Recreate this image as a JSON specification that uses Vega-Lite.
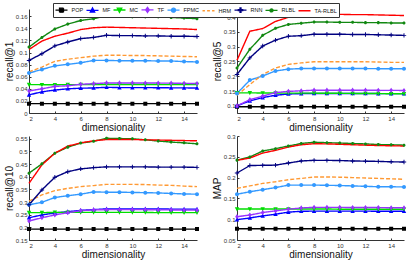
{
"$schema": "https://vega.github.io/schema/vega-lite/v6.json",
"padding": {"left": 4, "top": 2, "right": 2, "bottom": 2},
"background": "white",
"config": {
  "view": {"stroke": null},
  "font": "Liberation Sans",
  "axis": {"labelFontSize": 6, "titleFontSize": 10, "titleFontWeight": "normal", "domainColor": "#333", "tickColor": "#333", "labelColor": "#333", "titleColor": "#111", "grid": false, "tickSize": -2, "labelPadding": 4, "titlePadding": 1},
  "legend": {"orient": "none", "legendX": 24, "legendY": -6, "direction": "horizontal", "columns": 9, "title": null, "symbolSize": 64, "symbolOffset": 2, "symbolStrokeWidth": 1.3, "symbolOpacity": 1, "labelFontSize": 5.5, "labelOffset": 5, "columnPadding": 0, "padding": 1.5, "strokeColor": "#333", "fillColor": "white", "labelColor": "#111"}
},
"data": {"values": [
{"m":"r1","s":"POP","d":2,"v":0.0155},{"m":"r1","s":"POP","d":3,"v":0.0155},{"m":"r1","s":"POP","d":4,"v":0.0155},{"m":"r1","s":"POP","d":5,"v":0.0155},{"m":"r1","s":"POP","d":6,"v":0.0155},{"m":"r1","s":"POP","d":7,"v":0.0155},{"m":"r1","s":"POP","d":8,"v":0.0155},{"m":"r1","s":"POP","d":9,"v":0.0155},{"m":"r1","s":"POP","d":10,"v":0.0155},{"m":"r1","s":"POP","d":11,"v":0.0155},{"m":"r1","s":"POP","d":12,"v":0.0155},{"m":"r1","s":"POP","d":13,"v":0.0155},{"m":"r1","s":"POP","d":14,"v":0.0155},{"m":"r1","s":"POP","d":15,"v":0.0155},
{"m":"r1","s":"MF","d":2,"v":0.030},{"m":"r1","s":"MF","d":3,"v":0.035},{"m":"r1","s":"MF","d":4,"v":0.038},{"m":"r1","s":"MF","d":5,"v":0.040},{"m":"r1","s":"MF","d":6,"v":0.041},{"m":"r1","s":"MF","d":7,"v":0.0414},{"m":"r1","s":"MF","d":8,"v":0.0425},{"m":"r1","s":"MF","d":9,"v":0.042},{"m":"r1","s":"MF","d":10,"v":0.042},{"m":"r1","s":"MF","d":11,"v":0.042},{"m":"r1","s":"MF","d":12,"v":0.0418},{"m":"r1","s":"MF","d":13,"v":0.0416},{"m":"r1","s":"MF","d":14,"v":0.0415},{"m":"r1","s":"MF","d":15,"v":0.0414},
{"m":"r1","s":"MC","d":2,"v":0.047},{"m":"r1","s":"MC","d":3,"v":0.0468},{"m":"r1","s":"MC","d":4,"v":0.0468},{"m":"r1","s":"MC","d":5,"v":0.0469},{"m":"r1","s":"MC","d":6,"v":0.047},{"m":"r1","s":"MC","d":7,"v":0.047},{"m":"r1","s":"MC","d":8,"v":0.0472},{"m":"r1","s":"MC","d":9,"v":0.0472},{"m":"r1","s":"MC","d":10,"v":0.0471},{"m":"r1","s":"MC","d":11,"v":0.0471},{"m":"r1","s":"MC","d":12,"v":0.047},{"m":"r1","s":"MC","d":13,"v":0.047},{"m":"r1","s":"MC","d":14,"v":0.047},{"m":"r1","s":"MC","d":15,"v":0.047},
{"m":"r1","s":"TF","d":2,"v":0.0365},{"m":"r1","s":"TF","d":3,"v":0.040},{"m":"r1","s":"TF","d":4,"v":0.044},{"m":"r1","s":"TF","d":5,"v":0.045},{"m":"r1","s":"TF","d":6,"v":0.0475},{"m":"r1","s":"TF","d":7,"v":0.0485},{"m":"r1","s":"TF","d":8,"v":0.0497},{"m":"r1","s":"TF","d":9,"v":0.0497},{"m":"r1","s":"TF","d":10,"v":0.0497},{"m":"r1","s":"TF","d":11,"v":0.0496},{"m":"r1","s":"TF","d":12,"v":0.0495},{"m":"r1","s":"TF","d":13,"v":0.0493},{"m":"r1","s":"TF","d":14,"v":0.049},{"m":"r1","s":"TF","d":15,"v":0.0488},
{"m":"r1","s":"FPMC","d":2,"v":0.066},{"m":"r1","s":"FPMC","d":3,"v":0.072},{"m":"r1","s":"FPMC","d":4,"v":0.078},{"m":"r1","s":"FPMC","d":5,"v":0.0805},{"m":"r1","s":"FPMC","d":6,"v":0.083},{"m":"r1","s":"FPMC","d":7,"v":0.087},{"m":"r1","s":"FPMC","d":8,"v":0.087},{"m":"r1","s":"FPMC","d":9,"v":0.0865},{"m":"r1","s":"FPMC","d":10,"v":0.0865},{"m":"r1","s":"FPMC","d":11,"v":0.0865},{"m":"r1","s":"FPMC","d":12,"v":0.086},{"m":"r1","s":"FPMC","d":13,"v":0.086},{"m":"r1","s":"FPMC","d":14,"v":0.085},{"m":"r1","s":"FPMC","d":15,"v":0.0845},
{"m":"r1","s":"HRM","d":2,"v":0.068},{"m":"r1","s":"HRM","d":3,"v":0.076},{"m":"r1","s":"HRM","d":4,"v":0.0855},{"m":"r1","s":"HRM","d":5,"v":0.089},{"m":"r1","s":"HRM","d":6,"v":0.0915},{"m":"r1","s":"HRM","d":7,"v":0.094},{"m":"r1","s":"HRM","d":8,"v":0.0955},{"m":"r1","s":"HRM","d":9,"v":0.0955},{"m":"r1","s":"HRM","d":10,"v":0.095},{"m":"r1","s":"HRM","d":11,"v":0.095},{"m":"r1","s":"HRM","d":12,"v":0.0945},{"m":"r1","s":"HRM","d":13,"v":0.094},{"m":"r1","s":"HRM","d":14,"v":0.0935},{"m":"r1","s":"HRM","d":15,"v":0.093},
{"m":"r1","s":"RNN","d":2,"v":0.087},{"m":"r1","s":"RNN","d":3,"v":0.098},{"m":"r1","s":"RNN","d":4,"v":0.111},{"m":"r1","s":"RNN","d":5,"v":0.1175},{"m":"r1","s":"RNN","d":6,"v":0.123},{"m":"r1","s":"RNN","d":7,"v":0.125},{"m":"r1","s":"RNN","d":8,"v":0.1285},{"m":"r1","s":"RNN","d":9,"v":0.128},{"m":"r1","s":"RNN","d":10,"v":0.128},{"m":"r1","s":"RNN","d":11,"v":0.1275},{"m":"r1","s":"RNN","d":12,"v":0.1275},{"m":"r1","s":"RNN","d":13,"v":0.127},{"m":"r1","s":"RNN","d":14,"v":0.127},{"m":"r1","s":"RNN","d":15,"v":0.1265},
{"m":"r1","s":"RLBL","d":2,"v":0.109},{"m":"r1","s":"RLBL","d":3,"v":0.125},{"m":"r1","s":"RLBL","d":4,"v":0.139},{"m":"r1","s":"RLBL","d":5,"v":0.147},{"m":"r1","s":"RLBL","d":6,"v":0.153},{"m":"r1","s":"RLBL","d":7,"v":0.156},{"m":"r1","s":"RLBL","d":8,"v":0.1605},{"m":"r1","s":"RLBL","d":9,"v":0.160},{"m":"r1","s":"RLBL","d":10,"v":0.159},{"m":"r1","s":"RLBL","d":11,"v":0.159},{"m":"r1","s":"RLBL","d":12,"v":0.159},{"m":"r1","s":"RLBL","d":13,"v":0.158},{"m":"r1","s":"RLBL","d":14,"v":0.157},{"m":"r1","s":"RLBL","d":15,"v":0.156},
{"m":"r1","s":"TA-RLBL","d":2,"v":0.105},{"m":"r1","s":"TA-RLBL","d":3,"v":0.119},{"m":"r1","s":"TA-RLBL","d":4,"v":0.127},{"m":"r1","s":"TA-RLBL","d":5,"v":0.132},{"m":"r1","s":"TA-RLBL","d":6,"v":0.138},{"m":"r1","s":"TA-RLBL","d":7,"v":0.141},{"m":"r1","s":"TA-RLBL","d":8,"v":0.142},{"m":"r1","s":"TA-RLBL","d":9,"v":0.1415},{"m":"r1","s":"TA-RLBL","d":10,"v":0.141},{"m":"r1","s":"TA-RLBL","d":11,"v":0.1405},{"m":"r1","s":"TA-RLBL","d":12,"v":0.140},{"m":"r1","s":"TA-RLBL","d":13,"v":0.1395},{"m":"r1","s":"TA-RLBL","d":14,"v":0.139},{"m":"r1","s":"TA-RLBL","d":15,"v":0.138},
{"m":"r5","s":"POP","d":2,"v":0.097},{"m":"r5","s":"POP","d":3,"v":0.097},{"m":"r5","s":"POP","d":4,"v":0.097},{"m":"r5","s":"POP","d":5,"v":0.097},{"m":"r5","s":"POP","d":6,"v":0.097},{"m":"r5","s":"POP","d":7,"v":0.097},{"m":"r5","s":"POP","d":8,"v":0.097},{"m":"r5","s":"POP","d":9,"v":0.097},{"m":"r5","s":"POP","d":10,"v":0.097},{"m":"r5","s":"POP","d":11,"v":0.097},{"m":"r5","s":"POP","d":12,"v":0.097},{"m":"r5","s":"POP","d":13,"v":0.097},{"m":"r5","s":"POP","d":14,"v":0.097},{"m":"r5","s":"POP","d":15,"v":0.097},
{"m":"r5","s":"MF","d":2,"v":0.100},{"m":"r5","s":"MF","d":3,"v":0.117},{"m":"r5","s":"MF","d":4,"v":0.128},{"m":"r5","s":"MF","d":5,"v":0.136},{"m":"r5","s":"MF","d":6,"v":0.140},{"m":"r5","s":"MF","d":7,"v":0.1415},{"m":"r5","s":"MF","d":8,"v":0.142},{"m":"r5","s":"MF","d":9,"v":0.142},{"m":"r5","s":"MF","d":10,"v":0.142},{"m":"r5","s":"MF","d":11,"v":0.142},{"m":"r5","s":"MF","d":12,"v":0.142},{"m":"r5","s":"MF","d":13,"v":0.1415},{"m":"r5","s":"MF","d":14,"v":0.1415},{"m":"r5","s":"MF","d":15,"v":0.1415},
{"m":"r5","s":"MC","d":2,"v":0.144},{"m":"r5","s":"MC","d":3,"v":0.144},{"m":"r5","s":"MC","d":4,"v":0.1435},{"m":"r5","s":"MC","d":5,"v":0.1435},{"m":"r5","s":"MC","d":6,"v":0.143},{"m":"r5","s":"MC","d":7,"v":0.143},{"m":"r5","s":"MC","d":8,"v":0.143},{"m":"r5","s":"MC","d":9,"v":0.1425},{"m":"r5","s":"MC","d":10,"v":0.1425},{"m":"r5","s":"MC","d":11,"v":0.142},{"m":"r5","s":"MC","d":12,"v":0.142},{"m":"r5","s":"MC","d":13,"v":0.1415},{"m":"r5","s":"MC","d":14,"v":0.141},{"m":"r5","s":"MC","d":15,"v":0.141},
{"m":"r5","s":"TF","d":2,"v":0.100},{"m":"r5","s":"TF","d":3,"v":0.121},{"m":"r5","s":"TF","d":4,"v":0.133},{"m":"r5","s":"TF","d":5,"v":0.145},{"m":"r5","s":"TF","d":6,"v":0.149},{"m":"r5","s":"TF","d":7,"v":0.151},{"m":"r5","s":"TF","d":8,"v":0.153},{"m":"r5","s":"TF","d":9,"v":0.153},{"m":"r5","s":"TF","d":10,"v":0.153},{"m":"r5","s":"TF","d":11,"v":0.153},{"m":"r5","s":"TF","d":12,"v":0.153},{"m":"r5","s":"TF","d":13,"v":0.1525},{"m":"r5","s":"TF","d":14,"v":0.1525},{"m":"r5","s":"TF","d":15,"v":0.152},
{"m":"r5","s":"FPMC","d":2,"v":0.142},{"m":"r5","s":"FPMC","d":3,"v":0.187},{"m":"r5","s":"FPMC","d":4,"v":0.201},{"m":"r5","s":"FPMC","d":5,"v":0.218},{"m":"r5","s":"FPMC","d":6,"v":0.224},{"m":"r5","s":"FPMC","d":7,"v":0.226},{"m":"r5","s":"FPMC","d":8,"v":0.226},{"m":"r5","s":"FPMC","d":9,"v":0.226},{"m":"r5","s":"FPMC","d":10,"v":0.226},{"m":"r5","s":"FPMC","d":11,"v":0.226},{"m":"r5","s":"FPMC","d":12,"v":0.226},{"m":"r5","s":"FPMC","d":13,"v":0.2255},{"m":"r5","s":"FPMC","d":14,"v":0.2255},{"m":"r5","s":"FPMC","d":15,"v":0.225},
{"m":"r5","s":"HRM","d":2,"v":0.136},{"m":"r5","s":"HRM","d":3,"v":0.172},{"m":"r5","s":"HRM","d":4,"v":0.206},{"m":"r5","s":"HRM","d":5,"v":0.228},{"m":"r5","s":"HRM","d":6,"v":0.240},{"m":"r5","s":"HRM","d":7,"v":0.245},{"m":"r5","s":"HRM","d":8,"v":0.249},{"m":"r5","s":"HRM","d":9,"v":0.249},{"m":"r5","s":"HRM","d":10,"v":0.249},{"m":"r5","s":"HRM","d":11,"v":0.249},{"m":"r5","s":"HRM","d":12,"v":0.249},{"m":"r5","s":"HRM","d":13,"v":0.248},{"m":"r5","s":"HRM","d":14,"v":0.247},{"m":"r5","s":"HRM","d":15,"v":0.247},
{"m":"r5","s":"RNN","d":2,"v":0.206},{"m":"r5","s":"RNN","d":3,"v":0.262},{"m":"r5","s":"RNN","d":4,"v":0.302},{"m":"r5","s":"RNN","d":5,"v":0.322},{"m":"r5","s":"RNN","d":6,"v":0.335},{"m":"r5","s":"RNN","d":7,"v":0.337},{"m":"r5","s":"RNN","d":8,"v":0.342},{"m":"r5","s":"RNN","d":9,"v":0.342},{"m":"r5","s":"RNN","d":10,"v":0.342},{"m":"r5","s":"RNN","d":11,"v":0.341},{"m":"r5","s":"RNN","d":12,"v":0.341},{"m":"r5","s":"RNN","d":13,"v":0.340},{"m":"r5","s":"RNN","d":14,"v":0.339},{"m":"r5","s":"RNN","d":15,"v":0.338},
{"m":"r5","s":"RLBL","d":2,"v":0.228},{"m":"r5","s":"RLBL","d":3,"v":0.291},{"m":"r5","s":"RLBL","d":4,"v":0.338},{"m":"r5","s":"RLBL","d":5,"v":0.362},{"m":"r5","s":"RLBL","d":6,"v":0.375},{"m":"r5","s":"RLBL","d":7,"v":0.379},{"m":"r5","s":"RLBL","d":8,"v":0.383},{"m":"r5","s":"RLBL","d":9,"v":0.383},{"m":"r5","s":"RLBL","d":10,"v":0.382},{"m":"r5","s":"RLBL","d":11,"v":0.382},{"m":"r5","s":"RLBL","d":12,"v":0.381},{"m":"r5","s":"RLBL","d":13,"v":0.381},{"m":"r5","s":"RLBL","d":14,"v":0.380},{"m":"r5","s":"RLBL","d":15,"v":0.380},
{"m":"r5","s":"TA-RLBL","d":2,"v":0.254},{"m":"r5","s":"TA-RLBL","d":3,"v":0.352},{"m":"r5","s":"TA-RLBL","d":4,"v":0.361},{"m":"r5","s":"TA-RLBL","d":5,"v":0.385},{"m":"r5","s":"TA-RLBL","d":6,"v":0.399},{"m":"r5","s":"TA-RLBL","d":7,"v":0.403},{"m":"r5","s":"TA-RLBL","d":8,"v":0.409},{"m":"r5","s":"TA-RLBL","d":9,"v":0.409},{"m":"r5","s":"TA-RLBL","d":10,"v":0.409},{"m":"r5","s":"TA-RLBL","d":11,"v":0.408},{"m":"r5","s":"TA-RLBL","d":12,"v":0.408},{"m":"r5","s":"TA-RLBL","d":13,"v":0.407},{"m":"r5","s":"TA-RLBL","d":14,"v":0.406},{"m":"r5","s":"TA-RLBL","d":15,"v":0.405},
{"m":"r10","s":"POP","d":2,"v":0.193},{"m":"r10","s":"POP","d":3,"v":0.193},{"m":"r10","s":"POP","d":4,"v":0.193},{"m":"r10","s":"POP","d":5,"v":0.193},{"m":"r10","s":"POP","d":6,"v":0.193},{"m":"r10","s":"POP","d":7,"v":0.193},{"m":"r10","s":"POP","d":8,"v":0.193},{"m":"r10","s":"POP","d":9,"v":0.193},{"m":"r10","s":"POP","d":10,"v":0.193},{"m":"r10","s":"POP","d":11,"v":0.193},{"m":"r10","s":"POP","d":12,"v":0.193},{"m":"r10","s":"POP","d":13,"v":0.193},{"m":"r10","s":"POP","d":14,"v":0.193},{"m":"r10","s":"POP","d":15,"v":0.193},
{"m":"r10","s":"MF","d":2,"v":0.238},{"m":"r10","s":"MF","d":3,"v":0.249},{"m":"r10","s":"MF","d":4,"v":0.257},{"m":"r10","s":"MF","d":5,"v":0.262},{"m":"r10","s":"MF","d":6,"v":0.267},{"m":"r10","s":"MF","d":7,"v":0.270},{"m":"r10","s":"MF","d":8,"v":0.273},{"m":"r10","s":"MF","d":9,"v":0.273},{"m":"r10","s":"MF","d":10,"v":0.273},{"m":"r10","s":"MF","d":11,"v":0.273},{"m":"r10","s":"MF","d":12,"v":0.273},{"m":"r10","s":"MF","d":13,"v":0.272},{"m":"r10","s":"MF","d":14,"v":0.272},{"m":"r10","s":"MF","d":15,"v":0.272},
{"m":"r10","s":"MC","d":2,"v":0.258},{"m":"r10","s":"MC","d":3,"v":0.258},{"m":"r10","s":"MC","d":4,"v":0.259},{"m":"r10","s":"MC","d":5,"v":0.259},{"m":"r10","s":"MC","d":6,"v":0.259},{"m":"r10","s":"MC","d":7,"v":0.259},{"m":"r10","s":"MC","d":8,"v":0.259},{"m":"r10","s":"MC","d":9,"v":0.259},{"m":"r10","s":"MC","d":10,"v":0.259},{"m":"r10","s":"MC","d":11,"v":0.259},{"m":"r10","s":"MC","d":12,"v":0.258},{"m":"r10","s":"MC","d":13,"v":0.258},{"m":"r10","s":"MC","d":14,"v":0.258},{"m":"r10","s":"MC","d":15,"v":0.258},
{"m":"r10","s":"TF","d":2,"v":0.225},{"m":"r10","s":"TF","d":3,"v":0.238},{"m":"r10","s":"TF","d":4,"v":0.249},{"m":"r10","s":"TF","d":5,"v":0.258},{"m":"r10","s":"TF","d":6,"v":0.266},{"m":"r10","s":"TF","d":7,"v":0.269},{"m":"r10","s":"TF","d":8,"v":0.270},{"m":"r10","s":"TF","d":9,"v":0.270},{"m":"r10","s":"TF","d":10,"v":0.270},{"m":"r10","s":"TF","d":11,"v":0.270},{"m":"r10","s":"TF","d":12,"v":0.269},{"m":"r10","s":"TF","d":13,"v":0.269},{"m":"r10","s":"TF","d":14,"v":0.268},{"m":"r10","s":"TF","d":15,"v":0.268},
{"m":"r10","s":"FPMC","d":2,"v":0.289},{"m":"r10","s":"FPMC","d":3,"v":0.299},{"m":"r10","s":"FPMC","d":4,"v":0.318},{"m":"r10","s":"FPMC","d":5,"v":0.325},{"m":"r10","s":"FPMC","d":6,"v":0.331},{"m":"r10","s":"FPMC","d":7,"v":0.340},{"m":"r10","s":"FPMC","d":8,"v":0.339},{"m":"r10","s":"FPMC","d":9,"v":0.339},{"m":"r10","s":"FPMC","d":10,"v":0.338},{"m":"r10","s":"FPMC","d":11,"v":0.337},{"m":"r10","s":"FPMC","d":12,"v":0.336},{"m":"r10","s":"FPMC","d":13,"v":0.334},{"m":"r10","s":"FPMC","d":14,"v":0.332},{"m":"r10","s":"FPMC","d":15,"v":0.331},
{"m":"r10","s":"HRM","d":2,"v":0.304},{"m":"r10","s":"HRM","d":3,"v":0.328},{"m":"r10","s":"HRM","d":4,"v":0.345},{"m":"r10","s":"HRM","d":5,"v":0.354},{"m":"r10","s":"HRM","d":6,"v":0.361},{"m":"r10","s":"HRM","d":7,"v":0.365},{"m":"r10","s":"HRM","d":8,"v":0.370},{"m":"r10","s":"HRM","d":9,"v":0.370},{"m":"r10","s":"HRM","d":10,"v":0.370},{"m":"r10","s":"HRM","d":11,"v":0.369},{"m":"r10","s":"HRM","d":12,"v":0.367},{"m":"r10","s":"HRM","d":13,"v":0.366},{"m":"r10","s":"HRM","d":14,"v":0.363},{"m":"r10","s":"HRM","d":15,"v":0.361},
{"m":"r10","s":"RNN","d":2,"v":0.289},{"m":"r10","s":"RNN","d":3,"v":0.348},{"m":"r10","s":"RNN","d":4,"v":0.398},{"m":"r10","s":"RNN","d":5,"v":0.420},{"m":"r10","s":"RNN","d":6,"v":0.431},{"m":"r10","s":"RNN","d":7,"v":0.436},{"m":"r10","s":"RNN","d":8,"v":0.439},{"m":"r10","s":"RNN","d":9,"v":0.439},{"m":"r10","s":"RNN","d":10,"v":0.439},{"m":"r10","s":"RNN","d":11,"v":0.439},{"m":"r10","s":"RNN","d":12,"v":0.438},{"m":"r10","s":"RNN","d":13,"v":0.438},{"m":"r10","s":"RNN","d":14,"v":0.438},{"m":"r10","s":"RNN","d":15,"v":0.437},
{"m":"r10","s":"RLBL","d":2,"v":0.414},{"m":"r10","s":"RLBL","d":3,"v":0.451},{"m":"r10","s":"RLBL","d":4,"v":0.493},{"m":"r10","s":"RLBL","d":5,"v":0.517},{"m":"r10","s":"RLBL","d":6,"v":0.533},{"m":"r10","s":"RLBL","d":7,"v":0.540},{"m":"r10","s":"RLBL","d":8,"v":0.552},{"m":"r10","s":"RLBL","d":9,"v":0.551},{"m":"r10","s":"RLBL","d":10,"v":0.550},{"m":"r10","s":"RLBL","d":11,"v":0.546},{"m":"r10","s":"RLBL","d":12,"v":0.541},{"m":"r10","s":"RLBL","d":13,"v":0.537},{"m":"r10","s":"RLBL","d":14,"v":0.534},{"m":"r10","s":"RLBL","d":15,"v":0.530},
{"m":"r10","s":"TA-RLBL","d":2,"v":0.374},{"m":"r10","s":"TA-RLBL","d":3,"v":0.447},{"m":"r10","s":"TA-RLBL","d":4,"v":0.493},{"m":"r10","s":"TA-RLBL","d":5,"v":0.521},{"m":"r10","s":"TA-RLBL","d":6,"v":0.534},{"m":"r10","s":"TA-RLBL","d":7,"v":0.542},{"m":"r10","s":"TA-RLBL","d":8,"v":0.547},{"m":"r10","s":"TA-RLBL","d":9,"v":0.547},{"m":"r10","s":"TA-RLBL","d":10,"v":0.547},{"m":"r10","s":"TA-RLBL","d":11,"v":0.546},{"m":"r10","s":"TA-RLBL","d":12,"v":0.545},{"m":"r10","s":"TA-RLBL","d":13,"v":0.544},{"m":"r10","s":"TA-RLBL","d":14,"v":0.543},{"m":"r10","s":"TA-RLBL","d":15,"v":0.542},
{"m":"map","s":"POP","d":2,"v":0.077},{"m":"map","s":"POP","d":3,"v":0.077},{"m":"map","s":"POP","d":4,"v":0.077},{"m":"map","s":"POP","d":5,"v":0.077},{"m":"map","s":"POP","d":6,"v":0.077},{"m":"map","s":"POP","d":7,"v":0.077},{"m":"map","s":"POP","d":8,"v":0.077},{"m":"map","s":"POP","d":9,"v":0.077},{"m":"map","s":"POP","d":10,"v":0.077},{"m":"map","s":"POP","d":11,"v":0.077},{"m":"map","s":"POP","d":12,"v":0.077},{"m":"map","s":"POP","d":13,"v":0.077},{"m":"map","s":"POP","d":14,"v":0.077},{"m":"map","s":"POP","d":15,"v":0.077},
{"m":"map","s":"MF","d":2,"v":0.099},{"m":"map","s":"MF","d":3,"v":0.103},{"m":"map","s":"MF","d":4,"v":0.108},{"m":"map","s":"MF","d":5,"v":0.112},{"m":"map","s":"MF","d":6,"v":0.117},{"m":"map","s":"MF","d":7,"v":0.119},{"m":"map","s":"MF","d":8,"v":0.1195},{"m":"map","s":"MF","d":9,"v":0.1195},{"m":"map","s":"MF","d":10,"v":0.1195},{"m":"map","s":"MF","d":11,"v":0.1195},{"m":"map","s":"MF","d":12,"v":0.1195},{"m":"map","s":"MF","d":13,"v":0.119},{"m":"map","s":"MF","d":14,"v":0.119},{"m":"map","s":"MF","d":15,"v":0.119},
{"m":"map","s":"MC","d":2,"v":0.1245},{"m":"map","s":"MC","d":3,"v":0.1245},{"m":"map","s":"MC","d":4,"v":0.1245},{"m":"map","s":"MC","d":5,"v":0.1245},{"m":"map","s":"MC","d":6,"v":0.1245},{"m":"map","s":"MC","d":7,"v":0.1245},{"m":"map","s":"MC","d":8,"v":0.1245},{"m":"map","s":"MC","d":9,"v":0.1245},{"m":"map","s":"MC","d":10,"v":0.124},{"m":"map","s":"MC","d":11,"v":0.124},{"m":"map","s":"MC","d":12,"v":0.124},{"m":"map","s":"MC","d":13,"v":0.124},{"m":"map","s":"MC","d":14,"v":0.124},{"m":"map","s":"MC","d":15,"v":0.124},
{"m":"map","s":"TF","d":2,"v":0.106},{"m":"map","s":"TF","d":3,"v":0.110},{"m":"map","s":"TF","d":4,"v":0.116},{"m":"map","s":"TF","d":5,"v":0.120},{"m":"map","s":"TF","d":6,"v":0.124},{"m":"map","s":"TF","d":7,"v":0.127},{"m":"map","s":"TF","d":8,"v":0.1285},{"m":"map","s":"TF","d":9,"v":0.1285},{"m":"map","s":"TF","d":10,"v":0.1285},{"m":"map","s":"TF","d":11,"v":0.128},{"m":"map","s":"TF","d":12,"v":0.128},{"m":"map","s":"TF","d":13,"v":0.128},{"m":"map","s":"TF","d":14,"v":0.1275},{"m":"map","s":"TF","d":15,"v":0.1275},
{"m":"map","s":"FPMC","d":2,"v":0.160},{"m":"map","s":"FPMC","d":3,"v":0.166},{"m":"map","s":"FPMC","d":4,"v":0.171},{"m":"map","s":"FPMC","d":5,"v":0.176},{"m":"map","s":"FPMC","d":6,"v":0.182},{"m":"map","s":"FPMC","d":7,"v":0.182},{"m":"map","s":"FPMC","d":8,"v":0.182},{"m":"map","s":"FPMC","d":9,"v":0.1815},{"m":"map","s":"FPMC","d":10,"v":0.181},{"m":"map","s":"FPMC","d":11,"v":0.180},{"m":"map","s":"FPMC","d":12,"v":0.179},{"m":"map","s":"FPMC","d":13,"v":0.178},{"m":"map","s":"FPMC","d":14,"v":0.178},{"m":"map","s":"FPMC","d":15,"v":0.1775},
{"m":"map","s":"HRM","d":2,"v":0.174},{"m":"map","s":"HRM","d":3,"v":0.180},{"m":"map","s":"HRM","d":4,"v":0.186},{"m":"map","s":"HRM","d":5,"v":0.190},{"m":"map","s":"HRM","d":6,"v":0.195},{"m":"map","s":"HRM","d":7,"v":0.198},{"m":"map","s":"HRM","d":8,"v":0.2015},{"m":"map","s":"HRM","d":9,"v":0.2015},{"m":"map","s":"HRM","d":10,"v":0.201},{"m":"map","s":"HRM","d":11,"v":0.200},{"m":"map","s":"HRM","d":12,"v":0.199},{"m":"map","s":"HRM","d":13,"v":0.198},{"m":"map","s":"HRM","d":14,"v":0.197},{"m":"map","s":"HRM","d":15,"v":0.196},
{"m":"map","s":"RNN","d":2,"v":0.211},{"m":"map","s":"RNN","d":3,"v":0.229},{"m":"map","s":"RNN","d":4,"v":0.2295},{"m":"map","s":"RNN","d":5,"v":0.230},{"m":"map","s":"RNN","d":6,"v":0.235},{"m":"map","s":"RNN","d":7,"v":0.240},{"m":"map","s":"RNN","d":8,"v":0.2415},{"m":"map","s":"RNN","d":9,"v":0.2415},{"m":"map","s":"RNN","d":10,"v":0.241},{"m":"map","s":"RNN","d":11,"v":0.240},{"m":"map","s":"RNN","d":12,"v":0.2395},{"m":"map","s":"RNN","d":13,"v":0.239},{"m":"map","s":"RNN","d":14,"v":0.238},{"m":"map","s":"RNN","d":15,"v":0.2375},
{"m":"map","s":"RLBL","d":2,"v":0.242},{"m":"map","s":"RLBL","d":3,"v":0.2495},{"m":"map","s":"RLBL","d":4,"v":0.264},{"m":"map","s":"RLBL","d":5,"v":0.2695},{"m":"map","s":"RLBL","d":6,"v":0.276},{"m":"map","s":"RLBL","d":7,"v":0.282},{"m":"map","s":"RLBL","d":8,"v":0.285},{"m":"map","s":"RLBL","d":9,"v":0.284},{"m":"map","s":"RLBL","d":10,"v":0.283},{"m":"map","s":"RLBL","d":11,"v":0.282},{"m":"map","s":"RLBL","d":12,"v":0.281},{"m":"map","s":"RLBL","d":13,"v":0.2795},{"m":"map","s":"RLBL","d":14,"v":0.279},{"m":"map","s":"RLBL","d":15,"v":0.278},
{"m":"map","s":"TA-RLBL","d":2,"v":0.2415},{"m":"map","s":"TA-RLBL","d":3,"v":0.247},{"m":"map","s":"TA-RLBL","d":4,"v":0.259},{"m":"map","s":"TA-RLBL","d":5,"v":0.2655},{"m":"map","s":"TA-RLBL","d":6,"v":0.2735},{"m":"map","s":"TA-RLBL","d":7,"v":0.279},{"m":"map","s":"TA-RLBL","d":8,"v":0.2815},{"m":"map","s":"TA-RLBL","d":9,"v":0.281},{"m":"map","s":"TA-RLBL","d":10,"v":0.280},{"m":"map","s":"TA-RLBL","d":11,"v":0.279},{"m":"map","s":"TA-RLBL","d":12,"v":0.278},{"m":"map","s":"TA-RLBL","d":13,"v":0.277},{"m":"map","s":"TA-RLBL","d":14,"v":0.2765},{"m":"map","s":"TA-RLBL","d":15,"v":0.276}
]},
"spacing": 1,
"vconcat": [
{"spacing": 9, "hconcat": [
 {"width": 168, "height": 104,
  "transform": [{"filter": "datum.m === 'r1'"}],
  "encoding": {
   "x": {"field": "d", "type": "quantitative", "scale": {"domain": [2, 15], "nice": false, "zero": false}, "axis": {"values": [2,4,6,8,10,12,14], "title": "dimensionality"}},
   "y": {"field": "v", "type": "quantitative", "scale": {"domain": [0, 0.172], "nice": false, "zero": false}, "axis": {"values": [0,0.02,0.04,0.06,0.08,0.1,0.12,0.14,0.16], "format": "~g", "title": "recall@1"}},
   "color": {"field": "s", "type": "nominal", "scale": {"domain": ["POP","MF","MC","TF","FPMC","HRM","RNN","RLBL","TA-RLBL"], "range": ["#000000","#0000ff","#00dd00","#9933ff","#3399ff","#ff9933","#000080","#118811","#ff0000"]}, "legend": {"encode": {"symbols": {"update": {"stroke": {"scale": "color", "field": "value"}, "strokeWidth": {"value": 1.3}}}}}}
  },
  "layer": [
   {"mark": {"type": "line", "strokeWidth": 1.4}, "encoding": {"strokeDash": {"field": "s", "type": "nominal", "scale": {"domain": ["POP","MF","MC","TF","FPMC","HRM","RNN","RLBL","TA-RLBL"], "range": [[1,0],[1,0],[1,0],[1,0],[1,0],[4,2],[1,0],[1,0],[1,0]]}, "legend": null}}},
   {"mark": {"type": "point", "filled": true, "opacity": 1, "strokeWidth": 0, "size": 64},
    "encoding": {
     "shape": {"field": "s", "type": "nominal", "scale": {"domain": ["POP","MF","MC","TF","FPMC","HRM","RNN","RLBL","TA-RLBL"], "range": ["M-1.5,0H1.5M-0.5,-0.5H0.5V0.5H-0.5Z","M-1.5,0H1.5M0,-0.6L0.55,0.45H-0.55Z","M-1.5,0H1.5M0,0.6L0.55,-0.45H-0.55Z","M-1.5,0H1.5M0,-0.65L0.45,0L0,0.65L-0.45,0Z","M-1.5,0H1.5M0.5,0A0.5,0.5 0 1 1 -0.5,0A0.5,0.5 0 1 1 0.5,0Z","M-1.5,0H-0.9M-0.35,0H0.35M0.9,0H1.5","M-1.5,0H1.5M-0.12,-0.55H0.12V-0.12H0.55V0.12H0.12V0.55H-0.12V0.12H-0.55V-0.12H-0.12Z","M-1.5,0H1.5M0.38,0A0.38,0.38 0 1 1 -0.38,0A0.38,0.38 0 1 1 0.38,0Z","M-1.5,0H1.5"]},
      "legend": {"encode": {"symbols": {"update": {"stroke": {"scale": "color", "field": "value"}, "strokeWidth": {"value": 1.3}}}}}}
    }}
  ]},
 {"width": 167, "height": 104,
  "transform": [{"filter": "datum.m === 'r5'"}],
  "encoding": {
   "x": {"field": "d", "type": "quantitative", "scale": {"domain": [2, 15], "nice": false, "zero": false}, "axis": {"values": [2,4,6,8,10,12,14], "title": "dimensionality"}},
   "y": {"field": "v", "type": "quantitative", "scale": {"domain": [0.076, 0.427], "nice": false, "zero": false}, "axis": {"values": [0.1,0.15,0.2,0.25,0.3,0.35,0.4], "format": "~g", "title": "recall@5"}},
   "color": {"field": "s", "type": "nominal"}
  },
  "layer": [
   {"mark": {"type": "line", "strokeWidth": 1.4}, "encoding": {"strokeDash": {"field": "s", "type": "nominal", "legend": null}}},
   {"mark": {"type": "point", "filled": true, "opacity": 1, "strokeWidth": 0, "size": 64}, "encoding": {"shape": {"field": "s", "type": "nominal"}}}
  ]}
]},
{"spacing": 9, "hconcat": [
 {"width": 168, "height": 104,
  "transform": [{"filter": "datum.m === 'r10'"}],
  "encoding": {
   "x": {"field": "d", "type": "quantitative", "scale": {"domain": [2, 15], "nice": false, "zero": false}, "axis": {"values": [2,4,6,8,10,12,14], "title": "dimensionality"}},
   "y": {"field": "v", "type": "quantitative", "scale": {"domain": [0.15, 0.561], "nice": false, "zero": false}, "axis": {"values": [0.15,0.2,0.25,0.3,0.35,0.4,0.45,0.5,0.55], "format": "~g", "title": "recall@10"}},
   "color": {"field": "s", "type": "nominal"}
  },
  "layer": [
   {"mark": {"type": "line", "strokeWidth": 1.4}, "encoding": {"strokeDash": {"field": "s", "type": "nominal", "legend": null}}},
   {"mark": {"type": "point", "filled": true, "opacity": 1, "strokeWidth": 0, "size": 64}, "encoding": {"shape": {"field": "s", "type": "nominal"}}}
  ]},
 {"width": 167, "height": 104,
  "transform": [{"filter": "datum.m === 'map'"}],
  "encoding": {
   "x": {"field": "d", "type": "quantitative", "scale": {"domain": [2, 15], "nice": false, "zero": false}, "axis": {"values": [2,4,6,8,10,12,14], "title": "dimensionality"}},
   "y": {"field": "v", "type": "quantitative", "scale": {"domain": [0.05, 0.3], "nice": false, "zero": false}, "axis": {"values": [0.05,0.1,0.15,0.2,0.25,0.3], "format": "~g", "title": "MAP"}},
   "color": {"field": "s", "type": "nominal"}
  },
  "layer": [
   {"mark": {"type": "line", "strokeWidth": 1.4}, "encoding": {"strokeDash": {"field": "s", "type": "nominal", "legend": null}}},
   {"mark": {"type": "point", "filled": true, "opacity": 1, "strokeWidth": 0, "size": 64}, "encoding": {"shape": {"field": "s", "type": "nominal"}}}
  ]}
]}
]
}
